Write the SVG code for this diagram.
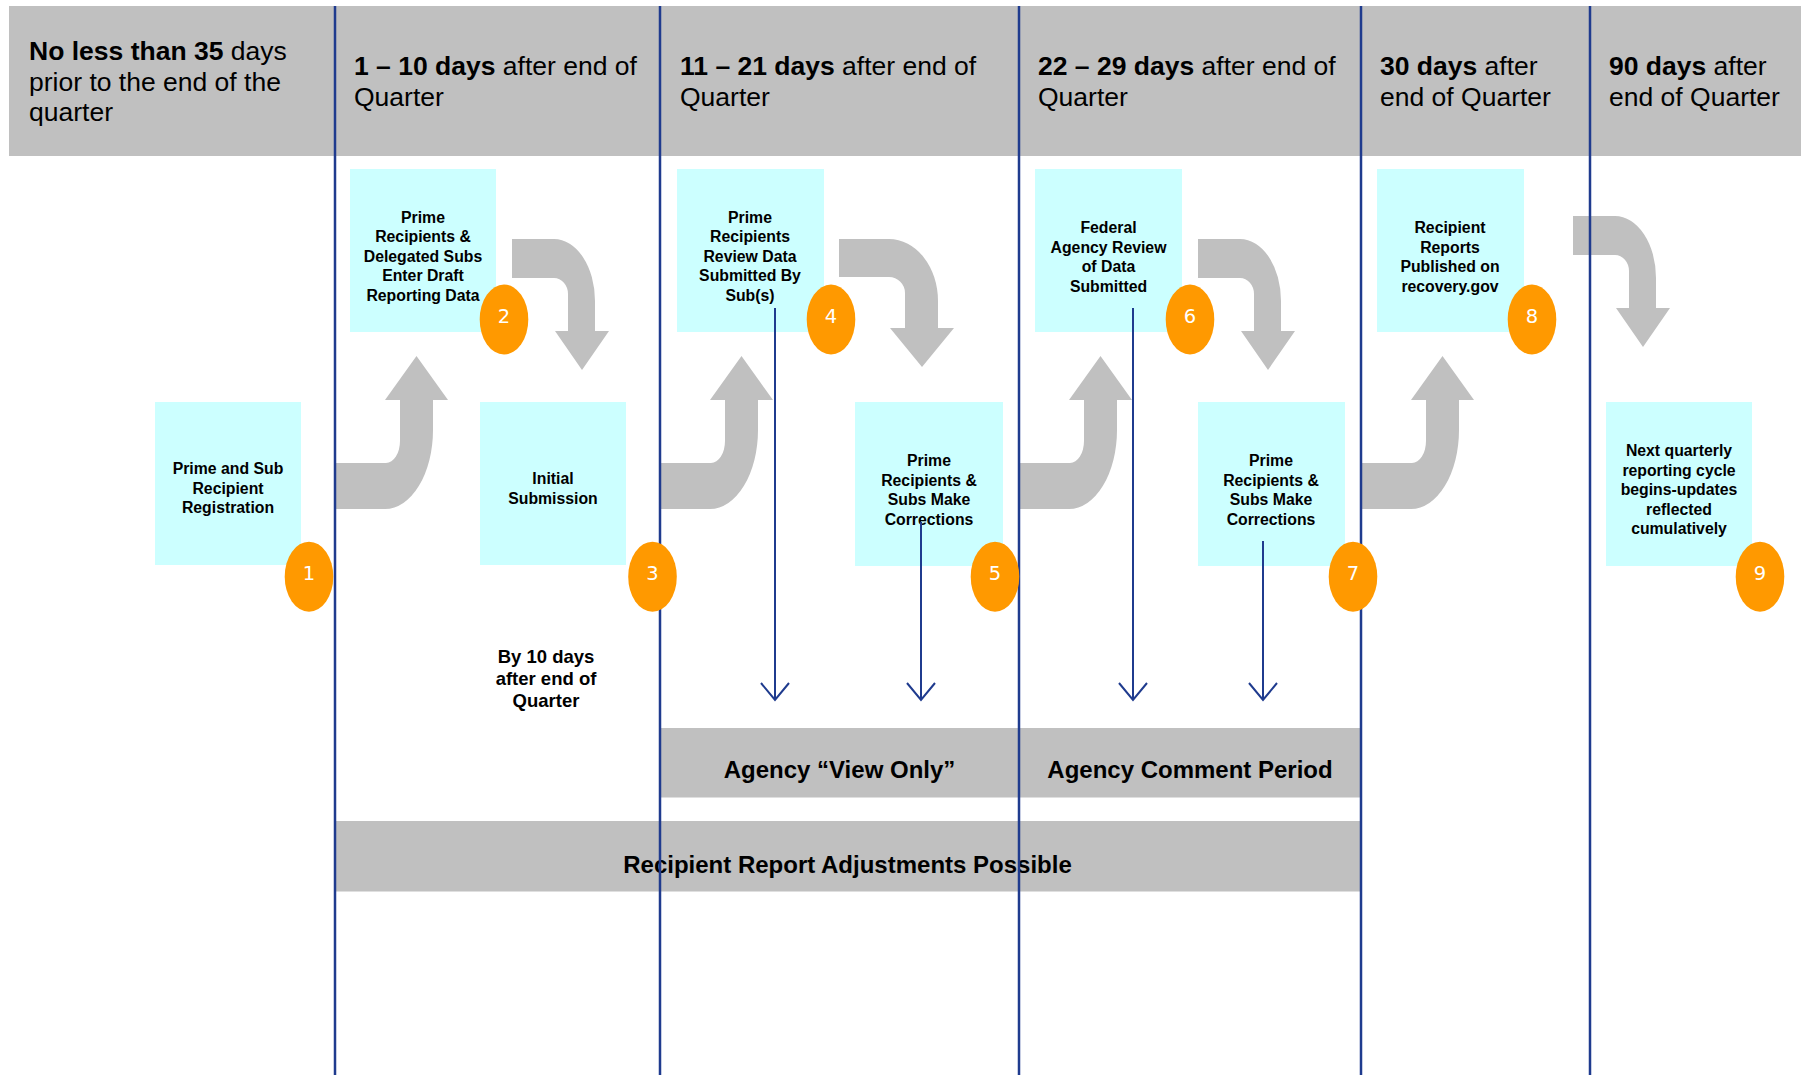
<svg xmlns="http://www.w3.org/2000/svg" xmlns:xlink="http://www.w3.org/1999/xlink" width="1801" height="1075" viewBox="0 0 1801 1075">
<style>
.bg{fill:#ffffff}
.gray{fill:#C0C0C0}
.box{fill:#CCFFFF}
.hdr{font-family:"Liberation Sans",Arial,sans-serif;font-size:26.5px;fill:#000}
.b{font-weight:bold}
.bt{font-family:"Liberation Sans",Arial,sans-serif;font-size:15.8px;font-weight:bold;fill:#000;text-anchor:middle}
.band{font-family:"Liberation Sans",Arial,sans-serif;font-size:24px;font-weight:bold;fill:#000;text-anchor:middle}
.note{font-family:"Liberation Sans",Arial,sans-serif;font-size:18.5px;font-weight:bold;fill:#000;text-anchor:middle}
.sep{stroke:#1F3B8E;stroke-width:2.5;fill:none}
.thin{stroke:#1F3B8E;stroke-width:2;fill:none}
.badge{fill:#FF9900}
.num{font-family:"DejaVu Sans",Verdana,sans-serif;font-size:19.5px;fill:#ffffff;text-anchor:middle}
</style>
<defs>
<path id="bentUp" class="gray" d="M0,509 H50 A48 79 0 0 0 98,430 V400 H113 L81.5,356 L50,400 H65 V441 A14 22 0 0 1 51,463 H0 Z"/>
<path id="bentDown" class="gray" d="M0,0 H42 A41 62 0 0 1 83,62 V92 H97 L70,131 L43,92 H56 V55 A14 16 0 0 0 42,39 H0 Z"/>
<path id="bentDownWide" class="gray" d="M0,0 H50 A49 62 0 0 1 99,62 V89 H115 L83,128 L51,89 H66 V54 A16 16 0 0 0 50,38 H0 Z"/>
</defs>
<rect class="bg" x="0" y="0" width="1801" height="1075"/>

<g id="header">
<rect class="gray" x="9" y="6" width="1792" height="150"/>
<text class="hdr" x="29" y="59.5"><tspan class="b">No less than 35</tspan> days</text>
<text class="hdr" x="29" y="90.5">prior to the end of the</text>
<text class="hdr" x="29" y="121">quarter</text>
<text class="hdr" x="354" y="75"><tspan class="b">1 – 10 days</tspan> after end of</text>
<text class="hdr" x="354" y="106">Quarter</text>
<text class="hdr" x="680" y="75"><tspan class="b">11 – 21 days</tspan> after end of</text>
<text class="hdr" x="680" y="106">Quarter</text>
<text class="hdr" x="1038" y="75"><tspan class="b">22 – 29 days</tspan> after end of</text>
<text class="hdr" x="1038" y="106">Quarter</text>
<text class="hdr" x="1380" y="75"><tspan class="b">30 days</tspan> after</text>
<text class="hdr" x="1380" y="106">end of Quarter</text>
<text class="hdr" x="1609" y="75"><tspan class="b">90 days</tspan> after</text>
<text class="hdr" x="1609" y="106">end of Quarter</text>
</g>

<g id="band-view-only">
<rect class="gray" x="660" y="728" width="359" height="69.5"/>
<text class="band" x="839.5" y="778">Agency “View Only”</text>
</g>
<g id="band-comment">
<rect class="gray" x="1019" y="728" width="342" height="69.5"/>
<text class="band" x="1190" y="778">Agency Comment Period</text>
</g>
<g id="band-adjustments">
<rect class="gray" x="334" y="821" width="1027" height="70.5"/>
<text class="band" x="847.5" y="873">Recipient Report Adjustments Possible</text>
</g>

<g id="connectors">
<use xlink:href="#bentUp" href="#bentUp" x="335" y="0"/>
<use xlink:href="#bentUp" href="#bentUp" x="660" y="0"/>
<use xlink:href="#bentUp" href="#bentUp" x="1019" y="0"/>
<use xlink:href="#bentUp" href="#bentUp" x="1361" y="0"/>
<use xlink:href="#bentDown" href="#bentDown" x="512" y="239"/>
<use xlink:href="#bentDownWide" href="#bentDownWide" x="839" y="239"/>
<use xlink:href="#bentDown" href="#bentDown" x="1198" y="239"/>
<use xlink:href="#bentDown" href="#bentDown" x="1573" y="216"/>
</g>

<g id="node1">
<rect class="box" x="155" y="402" width="146" height="163"/>
<text class="bt" x="228"><tspan x="228" y="474">Prime and Sub</tspan><tspan x="228" y="493.5">Recipient</tspan><tspan x="228" y="513">Registration</tspan></text>
</g>
<g id="node2">
<rect class="box" x="350" y="169" width="146" height="163"/>
<text class="bt"><tspan x="423" y="222.5">Prime</tspan><tspan x="423" y="242">Recipients &amp;</tspan><tspan x="423" y="261.5">Delegated Subs</tspan><tspan x="423" y="281">Enter Draft</tspan><tspan x="423" y="300.5">Reporting Data</tspan></text>
</g>
<g id="node3">
<rect class="box" x="480" y="402" width="146" height="163"/>
<text class="bt"><tspan x="553" y="483.5">Initial</tspan><tspan x="553" y="503.5">Submission</tspan></text>
</g>
<g id="node4">
<rect class="box" x="677" y="169" width="147" height="163"/>
<text class="bt"><tspan x="750" y="222.5">Prime</tspan><tspan x="750" y="242">Recipients</tspan><tspan x="750" y="261.5">Review Data</tspan><tspan x="750" y="281">Submitted By</tspan><tspan x="750" y="300.5">Sub(s)</tspan></text>
</g>
<g id="node5">
<rect class="box" x="855" y="402" width="148" height="164"/>
<text class="bt"><tspan x="929" y="466">Prime</tspan><tspan x="929" y="485.5">Recipients &amp;</tspan><tspan x="929" y="505">Subs Make</tspan><tspan x="929" y="524.5">Corrections</tspan></text>
</g>
<g id="node6">
<rect class="box" x="1035" y="169" width="147" height="163"/>
<text class="bt"><tspan x="1108.5" y="233">Federal</tspan><tspan x="1108.5" y="252.5">Agency Review</tspan><tspan x="1108.5" y="272">of Data</tspan><tspan x="1108.5" y="291.5">Submitted</tspan></text>
</g>
<g id="node7">
<rect class="box" x="1198" y="402" width="147" height="164"/>
<text class="bt"><tspan x="1271" y="466">Prime</tspan><tspan x="1271" y="485.5">Recipients &amp;</tspan><tspan x="1271" y="505">Subs Make</tspan><tspan x="1271" y="524.5">Corrections</tspan></text>
</g>
<g id="node8">
<rect class="box" x="1377" y="169" width="147" height="163"/>
<text class="bt"><tspan x="1450" y="233">Recipient</tspan><tspan x="1450" y="252.5">Reports</tspan><tspan x="1450" y="272">Published on</tspan><tspan x="1450" y="291.5">recovery.gov</tspan></text>
</g>
<g id="node9">
<rect class="box" x="1606" y="402" width="146" height="164"/>
<text class="bt"><tspan x="1679" y="456">Next quarterly</tspan><tspan x="1679" y="475.5">reporting cycle</tspan><tspan x="1679" y="495">begins-updates</tspan><tspan x="1679" y="514.5">reflected</tspan><tspan x="1679" y="534">cumulatively</tspan></text>
</g>

<g id="note-by-10-days">
<text class="note"><tspan x="546" y="663">By 10 days</tspan><tspan x="546" y="685">after end of</tspan><tspan x="546" y="707">Quarter</tspan></text>
</g>

<g id="review-arrows">
<path class="thin" d="M775,308 V700 M761,683 L775,700 L789,683"/>
<path class="thin" d="M921,522 V700 M907,683 L921,700 L935,683"/>
<path class="thin" d="M1133,308 V700 M1119,683 L1133,700 L1147,683"/>
<path class="thin" d="M1263,541 V700 M1249,683 L1263,700 L1277,683"/>
</g>

<g id="separators">
<path class="sep" d="M335,6 V1075 M660,6 V1075 M1019,6 V1075 M1361,6 V1075 M1590,6 V1075"/>
</g>

<g id="badge1"><ellipse class="badge" cx="309" cy="576.7" rx="24.3" ry="35"/><text class="num" x="309" y="580">1</text></g>
<g id="badge2"><ellipse class="badge" cx="504" cy="319.5" rx="24.3" ry="35"/><text class="num" x="504" y="323">2</text></g>
<g id="badge3"><ellipse class="badge" cx="652.5" cy="576.7" rx="24.3" ry="35"/><text class="num" x="652.5" y="580">3</text></g>
<g id="badge4"><ellipse class="badge" cx="831" cy="319.5" rx="24.3" ry="35"/><text class="num" x="831" y="323">4</text></g>
<g id="badge5"><ellipse class="badge" cx="995" cy="576.7" rx="24.3" ry="35"/><text class="num" x="995" y="580">5</text></g>
<g id="badge6"><ellipse class="badge" cx="1190" cy="319.5" rx="24.3" ry="35"/><text class="num" x="1190" y="323">6</text></g>
<g id="badge7"><ellipse class="badge" cx="1353" cy="576.7" rx="24.3" ry="35"/><text class="num" x="1353" y="580">7</text></g>
<g id="badge8"><ellipse class="badge" cx="1532" cy="319.5" rx="24.3" ry="35"/><text class="num" x="1532" y="323">8</text></g>
<g id="badge9"><ellipse class="badge" cx="1760" cy="576.7" rx="24.3" ry="35"/><text class="num" x="1760" y="580">9</text></g>
</svg>
